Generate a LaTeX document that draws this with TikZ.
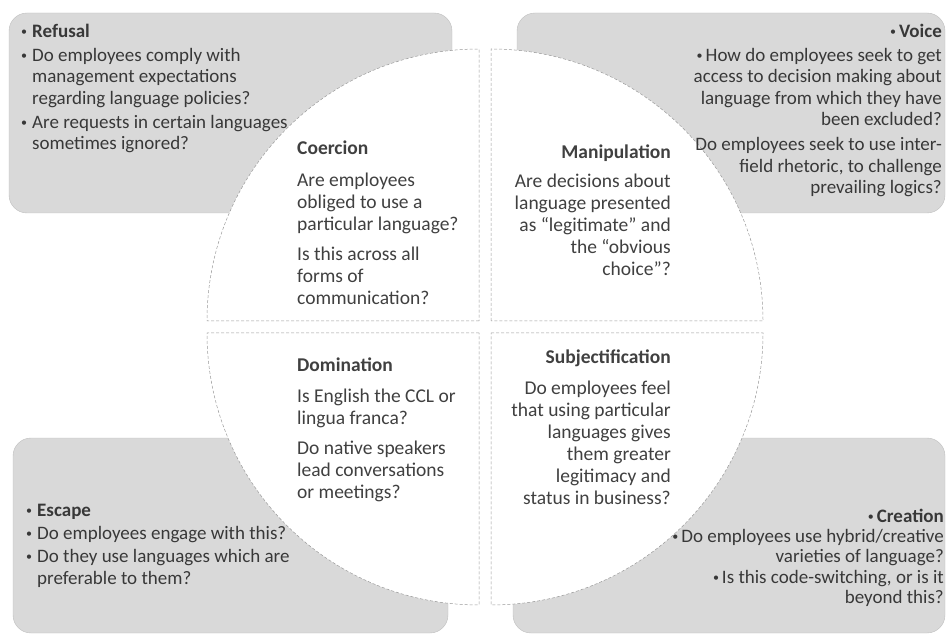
\documentclass[tikz,border=0pt]{standalone}
\usepackage{fontspec}
\setmainfont{Carlito}

\newcommand{\bulsym}{\raisebox{1.5pt}{\fontsize{12}{12}\selectfont\textbullet}}
\newcommand{\bul}{\makebox[11pt][l]{\bulsym}}
\newcommand{\rbul}{\bulsym\hspace{3pt}}
\newcommand{\ind}{\hspace*{11pt}}

\begin{document}
\begin{tikzpicture}[
    x=1pt, y=1pt,
    quadbox/.style={fill=black!15, draw=black!25, rounded corners=18pt},
    quarter/.style={fill=white, draw=black!40, densely dashed, line width=0.5pt},
    outtext/.style={inner sep=0pt, text=black!78, font=\fontsize{19}{21.5}\selectfont},
    intext/.style={inner sep=0pt, text=black!75, font=\fontsize{19.5}{22}\selectfont}
]
    \useasboundingbox (0,0) rectangle (947,635);

    % grey boxes in the corners
    \draw[quadbox] (9,422) rectangle (452,622);
    \draw[quadbox] (517,422) rectangle (945,622);
    \draw[quadbox] (13,2) rectangle (448,197);
    \draw[quadbox] (513,2) rectangle (945,197);

    % the four quarters of the circle
    \draw[quarter] (479,314) -- ++(-272,0) arc[start angle=180, end angle=90, radius=272] -- cycle;
    \draw[quarter] (491,314) -- ++(0,272) arc[start angle=90, end angle=0, radius=272] -- cycle;
    \draw[quarter] (479,302) -- ++(-272,0) arc[start angle=180, end angle=270, radius=272] -- cycle;
    \draw[quarter] (491,302) -- ++(272,0) arc[start angle=0, end angle=-90, radius=272] -- cycle;

    % outer texts (anchored on the last line)
    \node[outtext, align=left, anchor=base west] (refusal) at (21,485) {%
        \bul\textbf{Refusal}\\[2.5pt]
        \bul Do employees comply with\\
        \ind management expectations\\
        \ind regarding language policies?\\[2.5pt]
        \bul Are requests in certain languages\\
        \ind sometimes ignored?};
    \node[outtext, align=right, anchor=base east] (voice) at (942,441) {%
        \rbul\textbf{Voice}\\[2.5pt]
        \rbul How do employees seek to get\\
        access to decision making about\\
        language from which they have\\
        been excluded?\\[3.5pt]
        Do employees seek to use inter-\\
        field rhetoric, to challenge\\
        prevailing logics?};
    \node[outtext, align=left, anchor=base west, font=\fontsize{19}{22}\selectfont] (escape) at (26,51) {%
        \bul\textbf{Escape}\\[1pt]
        \bul Do employees engage with this?\\[1pt]
        \bul Do they use languages which are\\
        \ind preferable to them?};
    \node[outtext, align=right, anchor=base east, font=\fontsize{19}{20}\selectfont] (creation) at (944,32) {%
        \rbul\textbf{Creation}\\
        \rbul Do employees use hybrid/creative\\
        varieties of language?\\[1pt]
        \rbul Is this code-switching, or is it\\
        beyond this?};

    % inner texts (anchored on the last line)
    \node[intext, align=left, anchor=base west] (coercion) at (297,330) {%
        \textbf{Coercion}\\[10pt]
        Are employees\\
        obliged to use a\\
        particular language?\\[8pt]
        Is this across all\\
        forms of\\
        communication?};
    \node[intext, align=right, anchor=base east] (manipulation) at (671,359) {%
        \textbf{Manipulation}\\[7pt]
        Are decisions about\\
        language presented\\
        as “legitimate” and\\
        the “obvious\\
        choice”?};
    \node[intext, align=left, anchor=base west] (domination) at (297,137) {%
        \textbf{Domination}\\[9pt]
        Is English the CCL or\\
        lingua franca?\\[8pt]
        Do native speakers\\
        lead conversations\\
        or meetings?};
    \node[intext, align=right, anchor=base east] (subjectification) at (671,131) {%
        \textbf{Subjectification}\\[9pt]
        Do employees feel\\
        that using particular\\
        languages gives\\
        them greater\\
        legitimacy and\\
        status in business?};
\end{tikzpicture}
\end{document}
